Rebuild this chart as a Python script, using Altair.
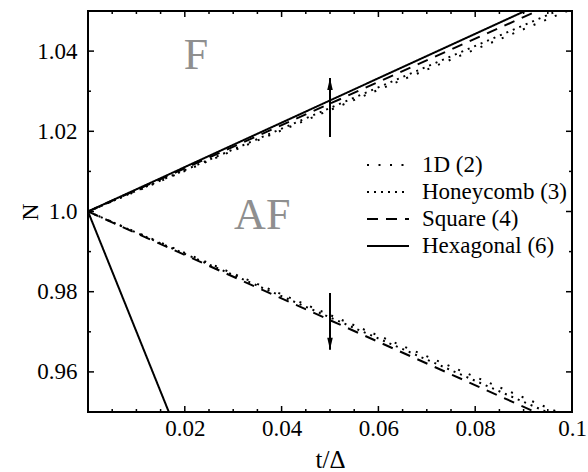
import altair as alt
import pandas as pd

FONT = "Liberation Serif"
W, H = 484, 401

lattices = ["1D (2)", "Honeycomb (3)", "Square (4)", "Hexagonal (6)"]

# Ferromagnetic branch (N rises with t/Δ)
f_t_1d = [0.0, 0.05, 0.099]
f_n_1d = [1.0, 1.0253, 1.05]
f_t_honey = [0.0, 0.05, 0.0969]
f_n_honey = [1.0, 1.0258, 1.05]
f_t_square = [0.0, 0.05, 0.0928]
f_n_square = [1.0, 1.0269, 1.05]
f_t_hex = [0.0, 0.05, 0.0903]
f_n_hex = [1.0, 1.0277, 1.05]

# Antiferromagnetic branch (N falls with t/Δ)
af_t_1d = [0.0, 0.05, 0.097]
af_n_1d = [1.0, 0.9742, 0.95]
af_t_honey = [0.0, 0.05, 0.0948]
af_n_honey = [1.0, 0.9736, 0.95]
af_t_square = [0.0, 0.05, 0.0924]
af_n_square = [1.0, 0.9729, 0.95]
af_t_hex = [0.0, 0.0167]
af_n_hex = [1.0, 0.95]

# Phase labels
phase_text = ["F", "AF"]
phase_t = [0.0223, 0.036]
phase_n = [1.0388, 0.9989]

# Arrows at t/Δ = 0.05
arrow_t = [0.05, 0.05]
arrow_from = [1.0186, 0.9797]
arrow_to = [1.0333, 0.9655]
arrow_dir = ["up", "down"]

# Tick marks and labels
x_labels = [0.02, 0.04, 0.06, 0.08, 0.1]
y_labels = [0.96, 0.98, 1.0, 1.02, 1.04]
x_major = [0.0, 0.02, 0.04, 0.06, 0.08, 0.1]
x_minor = [0.005, 0.01, 0.015, 0.025, 0.03, 0.035, 0.045, 0.05, 0.055,
           0.065, 0.07, 0.075, 0.085, 0.09, 0.095]
y_major = [0.96, 0.98, 1.0, 1.02, 1.04]
y_minor = [0.95, 0.97, 0.99, 1.01, 1.03, 1.05]

curves = [
    ("1D (2)", "F", f_t_1d, f_n_1d),
    ("Honeycomb (3)", "F", f_t_honey, f_n_honey),
    ("Square (4)", "F", f_t_square, f_n_square),
    ("Hexagonal (6)", "F", f_t_hex, f_n_hex),
    ("1D (2)", "AF", af_t_1d, af_n_1d),
    ("Honeycomb (3)", "AF", af_t_honey, af_n_honey),
    ("Square (4)", "AF", af_t_square, af_n_square),
    ("Hexagonal (6)", "AF", af_t_hex, af_n_hex),
]
rows = []
for lat, branch, ts, ns in curves:
    for i, (t, n) in enumerate(zip(ts, ns)):
        rows.append({"lattice": lat, "curve": lat + branch, "t": t, "N": n, "order": i})
lines_df = pd.DataFrame(rows)

xs = alt.Scale(domain=[0, 0.1], nice=False, zero=False)
ys = alt.Scale(domain=[0.95, 1.05], nice=False, zero=False)

x_axis = alt.Axis(
    values=x_labels, ticks=False, domain=False, grid=False,
    labelExpr="datum.value > 0.099 ? '0.1' : format(datum.value, '.2f')",
    labelFont=FONT, labelFontSize=23, labelColor="black", labelPadding=5,
    labelFlush=False,
    title="t/Δ", titleFont=FONT, titleFontSize=25, titleFontWeight="normal",
    titleColor="black", titleBaseline="alphabetic", titleY=55,
)
y_axis = alt.Axis(
    values=y_labels, ticks=False, domain=False, grid=False,
    labelExpr="datum.value == 1 ? '1.0' : format(datum.value, '.2f')",
    labelFont=FONT, labelFontSize=23, labelColor="black", labelPadding=11,
    title="N", titleFont=FONT, titleFontSize=24, titleFontWeight="normal",
    titleColor="black", titleBaseline="middle", titleX=-58, titleAngle=270,
)


def X(field):
    return alt.X(field, type="quantitative", scale=xs, axis=x_axis)


def Y(field):
    return alt.Y(field, type="quantitative", scale=ys, axis=y_axis)


lines = alt.Chart(lines_df).mark_line(clip=True, color="black", strokeWidth=2).encode(
    x=X("t"),
    y=Y("N"),
    strokeDash=alt.StrokeDash(
        "lattice:N",
        scale=alt.Scale(domain=lattices, range=[[2, 9.5], [2, 5], [11, 8], [1, 0]]),
        legend=alt.Legend(
            orient="none", legendX=278, legendY=143, title=None,
            symbolType="stroke", symbolSize=1764, symbolStrokeWidth=2,
            symbolStrokeColor="black", labelFont=FONT, labelFontSize=23,
            labelColor="black", labelOffset=12, rowPadding=4, clipHeight=22,
            padding=0,
        ),
    ),
    detail="curve:N",
    order="order:Q",
)

phase_df = pd.DataFrame({"label": phase_text, "t": phase_t, "N": phase_n})
phases = alt.Chart(phase_df).mark_text(
    font=FONT, fontSize=44, color="#8f8f8f", baseline="middle", align="center"
).encode(x=X("t"), y=Y("N"), text="label:N")

arrow_df = pd.DataFrame({"t": arrow_t, "n0": arrow_from, "n1": arrow_to, "dir": arrow_dir})
shafts = alt.Chart(arrow_df).mark_rule(color="black", strokeWidth=2).encode(
    x=X("t"), y=Y("n0"), y2="n1:Q",
)
head_up = alt.Chart(arrow_df).transform_filter("datum.dir == 'up'").mark_point(
    shape="M0,0L-0.32,1.4L0.32,1.4Z", filled=True, color="black", opacity=1, size=300
).encode(x=X("t"), y=Y("n1"))
head_down = alt.Chart(arrow_df).transform_filter("datum.dir == 'down'").mark_point(
    shape="M0,0L-0.32,-1.4L0.32,-1.4Z", filled=True, color="black", opacity=1, size=300
).encode(x=X("t"), y=Y("n1"))


# Inward-pointing ticks on all four sides of the frame
def x_ticks(vals, length):
    base = alt.Chart(pd.DataFrame({"t": vals})).mark_rule(color="black", strokeWidth=1.5)
    bottom = base.encode(x=X("t"), y=alt.value(H), y2=alt.value(H - length))
    top = base.encode(x=X("t"), y=alt.value(0), y2=alt.value(length))
    return [bottom, top]


def y_ticks(vals, length):
    base = alt.Chart(pd.DataFrame({"N": vals})).mark_rule(color="black", strokeWidth=1.5)
    left = base.encode(y=Y("N"), x=alt.value(0), x2=alt.value(length))
    right = base.encode(y=Y("N"), x=alt.value(W), x2=alt.value(W - length))
    return [left, right]


ticks = x_ticks(x_major, 6) + x_ticks(x_minor, 3) + y_ticks(y_major, 6) + y_ticks(y_minor, 3)

chart = alt.layer(lines, phases, shafts, head_up, head_down, *ticks).properties(
    width=W, height=H,
    autosize=alt.AutoSizeParams(type="none"),
    padding={"left": 88, "top": 11, "right": 16, "bottom": 60},
).configure(
    background="white", font=FONT
).configure_view(
    stroke="black", strokeWidth=2
).configure_legend(
    labelFont=FONT
)

chart.save("out.html", embed_options={"renderer": "svg", "actions": False})
